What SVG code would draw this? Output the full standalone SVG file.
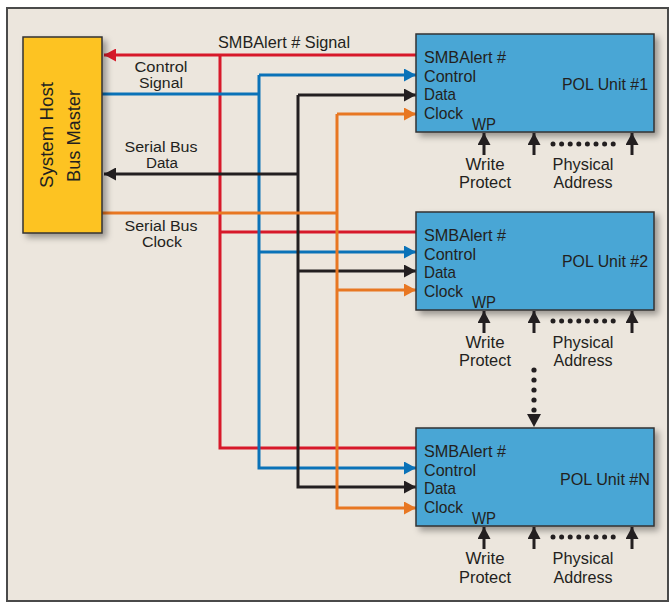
<svg xmlns="http://www.w3.org/2000/svg" width="669" height="602" viewBox="0 0 669 602">
<defs>
<style>
text{font-family:"Liberation Sans",Arial,sans-serif;fill:#231f20;font-size:17px}
.c{text-anchor:middle}
.e{text-anchor:end}
.s{font-size:15.5px}
.w{fill:none;stroke-width:3}
.r{stroke:#d7192a}.b{stroke:#0a72b8}.k{stroke:#231f20}.o{stroke:#e87722}
.pol{fill:#4aa6d5;stroke:#333;stroke-width:1.5}
.up{stroke:#231f20;stroke-width:3;marker-end:url(#ak)}
.dot{fill:#231f20}
</style>
<filter id="sh" x="-10%" y="-10%" width="130%" height="130%">
<feDropShadow dx="4" dy="4" stdDeviation="3" flood-color="#000" flood-opacity="0.35"/>
</filter>
<marker id="ar" markerUnits="userSpaceOnUse" markerWidth="12" markerHeight="13" refX="12" refY="6.5" orient="auto"><path d="M0,0L12,6.5L0,13z" fill="#d7192a"/></marker>
<marker id="ab" markerUnits="userSpaceOnUse" markerWidth="12" markerHeight="13" refX="12" refY="6.5" orient="auto"><path d="M0,0L12,6.5L0,13z" fill="#0a72b8"/></marker>
<marker id="ak" markerUnits="userSpaceOnUse" markerWidth="12" markerHeight="13" refX="12" refY="6.5" orient="auto"><path d="M0,0L12,6.5L0,13z" fill="#231f20"/></marker>
<marker id="ao" markerUnits="userSpaceOnUse" markerWidth="12" markerHeight="13" refX="12" refY="6.5" orient="auto"><path d="M0,0L12,6.5L0,13z" fill="#e87722"/></marker>
</defs>
<rect x="0" y="0" width="669" height="602" fill="#fff"/>
<rect x="7" y="8" width="661" height="593" fill="#ece6dd" stroke="#4a4a4a" stroke-width="2"/>

<g id="connectors">
<path class="w r" d="M416,55H104" marker-end="url(#ar)"/>
<path class="w r" d="M220,55V448H416"/>
<path class="w r" d="M220,232H416"/>
<path class="w b" d="M102,94H259"/>
<path class="w b" d="M259,75V468H416" marker-end="url(#ab)"/>
<path class="w b" d="M259,75H416" marker-end="url(#ab)"/>
<path class="w b" d="M259,252H416" marker-end="url(#ab)"/>
<path class="w k" d="M298,174H104" marker-end="url(#ak)"/>
<path class="w k" d="M298,95V487H416" marker-end="url(#ak)"/>
<path class="w k" d="M298,95H416" marker-end="url(#ak)"/>
<path class="w k" d="M298,271H416" marker-end="url(#ak)"/>
<path class="w o" d="M102,213H337"/>
<path class="w o" d="M337,114V508H416" marker-end="url(#ao)"/>
<path class="w o" d="M337,114H416" marker-end="url(#ao)"/>
<path class="w o" d="M337,290H416" marker-end="url(#ao)"/>
<g class="dot"><circle cx="534" cy="370" r="2.6"/><circle cx="534" cy="380" r="2.6"/><circle cx="534" cy="390" r="2.6"/><circle cx="534" cy="400" r="2.6"/><circle cx="534" cy="410" r="2.6"/></g>
<path d="M527,414H541L534,427z" fill="#231f20"/>
</g>

<g id="labels">
<text x="218" y="48" textLength="132" lengthAdjust="spacingAndGlyphs">SMBAlert # Signal</text>
<text class="c s" x="161" y="72" textLength="53" lengthAdjust="spacingAndGlyphs">Control</text>
<text class="c s" x="161" y="88" textLength="44" lengthAdjust="spacingAndGlyphs">Signal</text>
<text class="c s" x="161" y="152" textLength="73" lengthAdjust="spacingAndGlyphs">Serial Bus</text>
<text class="c s" x="162" y="168" textLength="32" lengthAdjust="spacingAndGlyphs">Data</text>
<text class="c s" x="161" y="231" textLength="73" lengthAdjust="spacingAndGlyphs">Serial Bus</text>
<text class="c s" x="162" y="247" textLength="40" lengthAdjust="spacingAndGlyphs">Clock</text>
</g>

<g id="host">
<rect x="23" y="37" width="79" height="196" fill="#fdc322" stroke="#333" stroke-width="1.5" filter="url(#sh)"/>
<text class="c" transform="translate(53,135) rotate(-90)" style="font-size:19px" textLength="106" lengthAdjust="spacingAndGlyphs">System Host</text>
<text class="c" transform="translate(80,136) rotate(-90)" style="font-size:19px" textLength="92" lengthAdjust="spacingAndGlyphs">Bus Master</text>
</g>

<g id="pol1">
<rect class="pol" x="416" y="34" width="238" height="98" filter="url(#sh)"/>
<text x="424" y="63" textLength="82" lengthAdjust="spacingAndGlyphs">SMBAlert #</text>
<text x="424" y="82" textLength="52" lengthAdjust="spacingAndGlyphs">Control</text>
<text x="424" y="100" textLength="32" lengthAdjust="spacingAndGlyphs">Data</text>
<text x="424" y="119" textLength="39" lengthAdjust="spacingAndGlyphs">Clock</text>
<text x="472" y="130" textLength="24" lengthAdjust="spacingAndGlyphs">WP</text>
<text class="e" x="648" y="90" textLength="86" lengthAdjust="spacingAndGlyphs">POL Unit #1</text>
<path class="up" d="M484,155V133"/><path class="up" d="M534,155V133"/><path class="up" d="M632,155V133"/>
<g class="dot"><circle cx="553" cy="144" r="2.5"/><circle cx="561.6" cy="144" r="2.5"/><circle cx="570.2" cy="144" r="2.5"/><circle cx="578.8" cy="144" r="2.5"/><circle cx="587.4" cy="144" r="2.5"/><circle cx="596" cy="144" r="2.5"/><circle cx="604.6" cy="144" r="2.5"/><circle cx="613.2" cy="144" r="2.5"/></g>
<text class="c" x="485" y="170" textLength="39" lengthAdjust="spacingAndGlyphs">Write</text>
<text class="c" x="485" y="188" textLength="52" lengthAdjust="spacingAndGlyphs">Protect</text>
<text class="c" x="583" y="170" textLength="61" lengthAdjust="spacingAndGlyphs">Physical</text>
<text class="c" x="583" y="188" textLength="59" lengthAdjust="spacingAndGlyphs">Address</text>
</g>

<g id="pol2">
<rect class="pol" x="416" y="212" width="238" height="98" filter="url(#sh)"/>
<text x="424" y="241" textLength="82" lengthAdjust="spacingAndGlyphs">SMBAlert #</text>
<text x="424" y="260" textLength="52" lengthAdjust="spacingAndGlyphs">Control</text>
<text x="424" y="278" textLength="32" lengthAdjust="spacingAndGlyphs">Data</text>
<text x="424" y="297" textLength="39" lengthAdjust="spacingAndGlyphs">Clock</text>
<text x="472" y="308" textLength="24" lengthAdjust="spacingAndGlyphs">WP</text>
<text class="e" x="648" y="267" textLength="86" lengthAdjust="spacingAndGlyphs">POL Unit #2</text>
<path class="up" d="M484,333V311"/><path class="up" d="M534,333V311"/><path class="up" d="M632,333V311"/>
<g class="dot"><circle cx="553" cy="321" r="2.5"/><circle cx="561.6" cy="321" r="2.5"/><circle cx="570.2" cy="321" r="2.5"/><circle cx="578.8" cy="321" r="2.5"/><circle cx="587.4" cy="321" r="2.5"/><circle cx="596" cy="321" r="2.5"/><circle cx="604.6" cy="321" r="2.5"/><circle cx="613.2" cy="321" r="2.5"/></g>
<text class="c" x="485" y="348" textLength="39" lengthAdjust="spacingAndGlyphs">Write</text>
<text class="c" x="485" y="366" textLength="52" lengthAdjust="spacingAndGlyphs">Protect</text>
<text class="c" x="583" y="348" textLength="61" lengthAdjust="spacingAndGlyphs">Physical</text>
<text class="c" x="583" y="366" textLength="59" lengthAdjust="spacingAndGlyphs">Address</text>
</g>

<g id="polN">
<rect class="pol" x="416" y="428" width="238" height="98" filter="url(#sh)"/>
<text x="424" y="457" textLength="82" lengthAdjust="spacingAndGlyphs">SMBAlert #</text>
<text x="424" y="476" textLength="52" lengthAdjust="spacingAndGlyphs">Control</text>
<text x="424" y="494" textLength="32" lengthAdjust="spacingAndGlyphs">Data</text>
<text x="424" y="513" textLength="39" lengthAdjust="spacingAndGlyphs">Clock</text>
<text x="472" y="524" textLength="24" lengthAdjust="spacingAndGlyphs">WP</text>
<text class="e" x="650" y="485" textLength="90" lengthAdjust="spacingAndGlyphs">POL Unit #N</text>
<path class="up" d="M484,549V527"/><path class="up" d="M534,549V527"/><path class="up" d="M632,549V527"/>
<g class="dot"><circle cx="553" cy="537" r="2.5"/><circle cx="561.6" cy="537" r="2.5"/><circle cx="570.2" cy="537" r="2.5"/><circle cx="578.8" cy="537" r="2.5"/><circle cx="587.4" cy="537" r="2.5"/><circle cx="596" cy="537" r="2.5"/><circle cx="604.6" cy="537" r="2.5"/><circle cx="613.2" cy="537" r="2.5"/></g>
<text class="c" x="485" y="564" textLength="39" lengthAdjust="spacingAndGlyphs">Write</text>
<text class="c" x="485" y="583" textLength="52" lengthAdjust="spacingAndGlyphs">Protect</text>
<text class="c" x="583" y="564" textLength="61" lengthAdjust="spacingAndGlyphs">Physical</text>
<text class="c" x="583" y="583" textLength="59" lengthAdjust="spacingAndGlyphs">Address</text>
</g>
</svg>
